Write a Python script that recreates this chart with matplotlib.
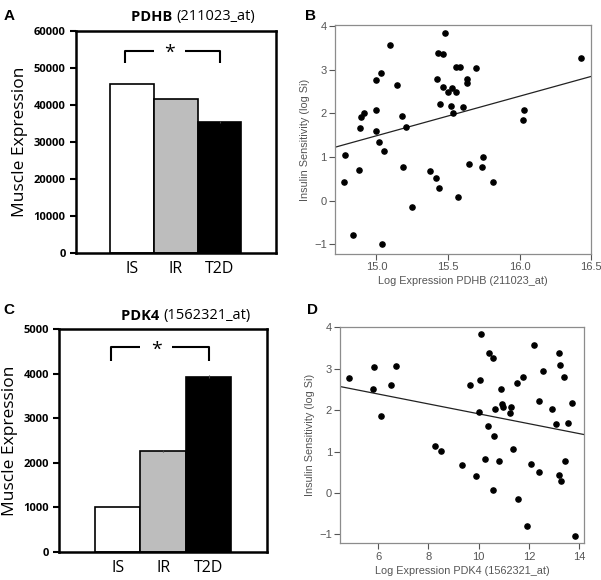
import matplotlib
matplotlib.use("Agg")
import matplotlib.pyplot as plt

# bar panels
groups = ["IS", "IR", "T2D"]
bar_colors = ["white", "#bdbdbd", "black"]
pdhb_expr = [45700, 41700, 35450]
pdhb_err = [0, 0, 300]
pdk4_expr = [1000, 2270, 3935]
pdk4_err = [0, 20, 30]

# scatter panels (same subjects, log Si)
log_si_b = [0.43, 1.05, -0.78, 0.70, 1.66, 1.92, 2.01, 1.60, 2.75, 2.07, 1.35, 2.92,
            -1.00, 1.14, 3.56, 2.64, 1.93, 0.78, 1.69, -0.14, 0.67, 0.52, 2.79, 3.37,
            0.30, 2.21, 3.35, 2.61, 3.83, 2.49, 2.17, 2.58, 2.01, 3.06, 2.49, 0.08,
            3.07, 2.14, 2.78, 2.69, 0.83, 3.04, 0.77, 1.00, 0.43, 1.85, 2.07, 3.26]
pdhb_log = [14.774, 14.783, 14.837, 14.876, 14.883, 14.895, 14.911, 14.995, 15.0, 15.0,
            15.019, 15.033, 15.042, 15.054, 15.096, 15.142, 15.18, 15.184, 15.208, 15.245,
            15.373, 15.415, 15.425, 15.427, 15.439, 15.441, 15.462, 15.462, 15.478, 15.50,
            15.523, 15.530, 15.532, 15.555, 15.557, 15.567, 15.585, 15.607, 15.63, 15.63,
            15.646, 15.693, 15.737, 15.744, 15.812, 16.026, 16.029, 16.432]
fit_b = (0.905, -12.09)

pdk4_log = [4.86, 5.79, 5.84, 6.11, 6.50, 6.72, 8.26, 8.49, 9.35, 9.66, 9.89, 10.03,
            10.04, 10.08, 10.24, 10.36, 10.41, 10.56, 10.57, 10.61, 10.64, 10.82, 10.89,
            10.91, 10.98, 11.25, 11.27, 11.35, 11.52, 11.56, 11.75, 11.92, 12.09, 12.21,
            12.41, 12.40, 12.54, 12.91, 13.07, 13.18, 13.18, 13.22, 13.26, 13.38, 13.42,
            13.55, 13.71, 13.84]
log_si_d = [2.77, 2.51, 3.05, 1.86, 2.60, 3.07, 1.14, 1.01, 0.68, 2.61, 0.42, 1.95,
            2.72, 3.84, 0.82, 1.61, 3.37, 0.08, 3.27, 1.37, 2.03, 0.77, 2.51, 2.15,
            2.07, 1.92, 2.07, 1.05, 2.65, -0.14, 2.80, -0.80, 0.70, 3.58, 2.23, 0.51,
            2.94, 2.02, 1.67, 3.38, 0.43, 3.09, 0.29, 2.81, 0.77, 1.70, 2.17, -1.04]
fit_d = (-0.1196, 3.108)

BAR_FONT = ["Open Sans", "DejaVu Sans"]
SC_FONT = ["Liberation Sans", "DejaVu Sans"]
GREY = "#555555"


def bar_panel(ax, title, vals, errs, ymax, ystep, bracket_y, bracket_drop):
    x = list(range(len(groups)))
    ax.bar(x, vals, width=1.0, color=bar_colors, edgecolor="black", linewidth=1.2,
           yerr=errs, error_kw=dict(ecolor="#444444", elinewidth=0.8, capsize=0))
    ax.set_xlim(-1.28, 3.29)
    ax.set_ylim(0, ymax)
    ax.set_yticks(range(0, ymax + 1, ystep))
    ax.set_xticks(x)
    ax.set_xticklabels(groups, family=BAR_FONT, fontsize=11.5)
    for lab in ax.get_yticklabels():
        lab.set_family(BAR_FONT)
        lab.set_fontweight("bold")
        lab.set_fontsize(8)
    ax.tick_params(axis="x", length=0, pad=6)
    ax.tick_params(axis="y", length=4, width=1.5, direction="out")
    for s in ax.spines.values():
        s.set_linewidth(1.8)
    ax.set_ylabel("Muscle Expression", family=BAR_FONT, fontsize=12.5, labelpad=4)
    name, probe = title.split(" ")
    ax.text(0.5, 1.03, name + " ", transform=ax.transAxes, ha="right", va="bottom",
            family=BAR_FONT, fontsize=10.5, fontweight="bold")
    ax.text(0.5, 1.03, probe, transform=ax.transAxes, ha="left", va="bottom",
            family=BAR_FONT, fontsize=10.5)
    # significance bracket IS vs T2D
    x0, x1, xm = x[0] - 0.15, x[2], (x[0] + x[2]) / 2 - 0.15
    kw = dict(color="black", linewidth=1.5, solid_capstyle="butt")
    ax.plot([x0, x0, xm - 0.35], [bracket_y - bracket_drop, bracket_y, bracket_y], **kw)
    ax.plot([xm + 0.35, x1, x1], [bracket_y, bracket_y, bracket_y - bracket_drop], **kw)
    ax.text(xm, bracket_y - 0.01 * ymax, "*", ha="center", va="center",
            family=BAR_FONT, fontsize=14)


def scatter_panel(ax, xs, ys, fit, xlim, xticks, xfmt, xlabel):
    ax.scatter(xs, ys, s=14, color="black", zorder=3)
    ax.plot(xlim, [fit[0] * v + fit[1] for v in xlim], color="#222222", linewidth=0.9)
    ax.set_xlim(xlim)
    ax.set_ylim(-1.22, 4.02)
    ax.set_xticks(xticks)
    ax.set_xticklabels([xfmt.format(t) for t in xticks])
    ax.set_yticks([-1, 0, 1, 2, 3, 4])
    ax.tick_params(colors=GREY, labelsize=8, length=4, width=0.8, direction="out", pad=2)
    for lab in ax.get_xticklabels() + ax.get_yticklabels():
        lab.set_family(SC_FONT)
    for s in ax.spines.values():
        s.set_color("#8c8c8c")
        s.set_linewidth(0.9)
    ax.set_xlabel(xlabel, family=SC_FONT, fontsize=7.8, color=GREY, labelpad=3)
    ax.set_ylabel("Insulin Sensitivity (log Si)", family=SC_FONT, fontsize=7.8,
                  color=GREY, labelpad=3)


fig = plt.figure(figsize=(6.01, 5.80), dpi=100)

ax_a = fig.add_axes([0.1265, 0.5638, 0.3328, 0.3828])
bar_panel(ax_a, "PDHB (211023_at)", pdhb_expr, pdhb_err, 60000, 10000, 54700, 3400)

ax_c = fig.add_axes([0.0987, 0.0488, 0.3461, 0.3834])
bar_panel(ax_c, "PDK4 (1562321_at)", pdk4_expr, pdk4_err, 5000, 1000, 4595, 300)

ax_b = fig.add_axes([0.5574, 0.5621, 0.4260, 0.3948])
scatter_panel(ax_b, pdhb_log, log_si_b, fit_b, (14.71, 16.5),
              [15.0, 15.5, 16.0, 16.5], "{:.1f}", "Log Expression PDHB (211023_at)")

ax_d = fig.add_axes([0.5662, 0.0630, 0.4060, 0.3740])
scatter_panel(ax_d, pdk4_log, log_si_d, fit_d, (4.5, 14.2),
              [6, 8, 10, 12, 14], "{:.0f}", "Log Expression PDK4 (1562321_at)")

for letter, (fx, fy) in zip("ABCD", [(0.006, 0.985), (0.508, 0.985),
                                      (0.006, 0.478), (0.510, 0.478)]):
    fig.text(fx, fy, letter, ha="left", va="top", family=SC_FONT,
             fontsize=11, fontweight="bold")

fig.savefig("out.png", dpi=100, facecolor="white")
